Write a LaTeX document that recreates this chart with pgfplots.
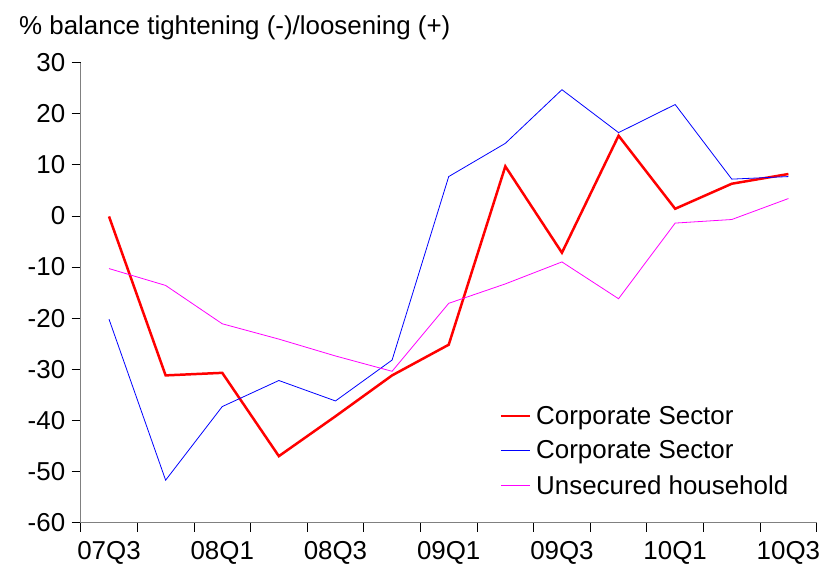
\documentclass[border=0pt]{standalone}
\usepackage{pgfplots}
\pgfplotsset{compat=1.18}
\usepackage{fontspec}
\setmainfont{Liberation Sans}
\definecolor{axgray}{RGB}{128,128,128}
\definecolor{mag}{RGB}{255,0,255}
\definecolor{blu}{RGB}{0,0,255}
\begin{document}
\begin{tikzpicture}[x=1bp,y=1bp]
\path[use as bounding box] (0,0) rectangle (821,576);
\node[anchor=base west, inner sep=0pt, font=\fontsize{26}{30}\selectfont] at (19,541) {\% balance tightening (-)/loosening (+)};
\begin{axis}[
  at={(80.7bp,53.4bp)}, anchor=south west,
  scale only axis, width=736bp, height=460bp,
  xmin=-0.5, xmax=12.5, ymin=-60, ymax=30,
  axis lines*=left,
  axis line style={axgray, line width=1.2pt},
  xtick={0,2,...,12},
  xticklabels={07Q3,08Q1,08Q3,09Q1,09Q3,10Q1,10Q3},
  minor xtick={-0.5,0.5,...,12.5},
  major x tick style={draw=none},
  ytick={-60,-50,...,30},
  tick align=outside,
  major tick length=9bp, minor tick length=9bp,
  every tick/.style={black, line width=0.8pt},
  tick label style={font=\fontsize{26}{30}\selectfont},
  x tick label style={yshift=-6bp},
  y tick label style={xshift=-3bp},
  /pgf/number format/assume math mode=true,
  legend style={at={(0.565,0.262)}, anchor=north west, draw=none, fill=none,
    font=\fontsize{26}{30}\selectfont, row sep=11bp,
    nodes={inner xsep=5bp}},
  legend cell align=left,
  legend image code/.code={\draw[#1] (0bp,0bp) -- (29bp,0bp);},
]
\addplot[red, line width=2.5pt] coordinates {
(0,-0.1) (1,-31.2) (2,-30.7) (3,-47.0) (4,-39.2) (5,-31.2) (6,-25.2)
(7,9.7) (8,-7.2) (9,15.7) (10,1.4) (11,6.3) (12,8.2)};
\addlegendentry{Corporate Sector}
\addplot[blu, line width=0.8pt] coordinates {
(0,-20.2) (1,-51.7) (2,-37.3) (3,-32.2) (4,-36.2) (5,-28.2) (6,7.7)
(7,14.2) (8,24.7) (9,16.3) (10,21.8) (11,7.2) (12,7.7)};
\addlegendentry{Corporate Sector}
\addplot[mag, line width=0.8pt] coordinates {
(0,-10.3) (1,-13.6) (2,-21.1) (3,-24.1) (4,-27.4) (5,-30.4) (6,-17.1)
(7,-13.3) (8,-9.0) (9,-16.2) (10,-1.4) (11,-0.7) (12,3.4)};
\addlegendentry{Unsecured household}
\end{axis}
\end{tikzpicture}
\end{document}
